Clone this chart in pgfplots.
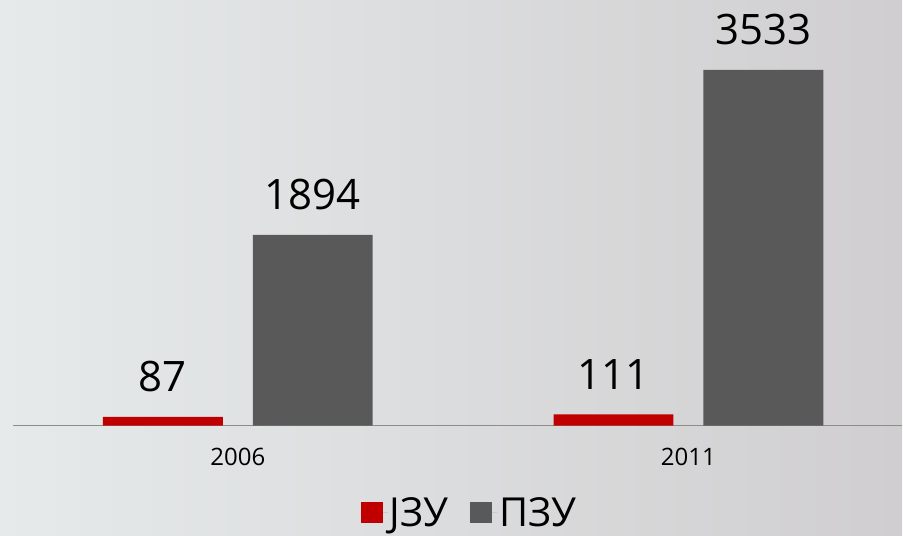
\documentclass[border=0pt]{standalone}
\usepackage{fontspec}
\setmainfont{Open Sans}
\usepackage{pgfplots}
\pgfplotsset{compat=1.18}
\definecolor{jzu}{HTML}{C00000}
\definecolor{pzu}{HTML}{595959}
\definecolor{bgl}{HTML}{E6EAEA}
\definecolor{bgr}{HTML}{D0CED0}
\definecolor{axl}{HTML}{8C8C8C}
\pgfplotsset{sqlegend/.style={legend image code/.code={%
  \fill[##1] (0pt,-11pt) rectangle (22pt,11pt); \path (0pt,0pt) -- (27pt,0pt);}}}

\begin{document}
\begin{tikzpicture}
  \shade[left color=bgl, right color=bgr] (0,0) rectangle (903pt,536pt);
  \begin{axis}[at={(13pt,0pt)}, anchor=south west, scale only axis,
      width=890pt, height=536pt,
      xmin=-0.4989, xmax=1.4745, ymin=-1092, ymax=4228,
      axis x line*=middle, axis y line=none,
      axis line style={axl, line width=1.6pt, -},
      xtick={0,1}, xticklabels={2006,2011}, ytick=\empty,
      major tick length=0pt,
      /pgf/number format/assume math mode=true,
      /pgf/number format/1000 sep={},
      xticklabel style={font=\fontsize{24}{24}\selectfont, inner sep=0pt, yshift=-22pt},
      nodes near coords,
      every node near coord/.append style={font=\fontsize{42}{42}\selectfont,
        inner sep=0pt, yshift=25pt, text=black},
      legend columns=2,
      legend style={draw=none, fill=none, at={(rel axis cs:0.5135,0.043)}, anchor=center,
        font=\fontsize{40}{40}\selectfont,
        /tikz/every even column/.append style={column sep=20pt}},
    ]
    \addplot[ybar, bar width=120pt, bar shift=-75pt, fill=jzu, draw=none, sqlegend,
      every node near coord/.append style={xshift=-75pt}]
      coordinates {(0,87) (1,111)};
    \addplot[ybar, bar width=120pt, bar shift=75pt, fill=pzu, draw=none, sqlegend,
      every node near coord/.append style={xshift=75pt}]
      coordinates {(0,1894) (1,3533)};
    \legend{ЈЗУ, ПЗУ}
  \end{axis}
\end{tikzpicture}
\end{document}
